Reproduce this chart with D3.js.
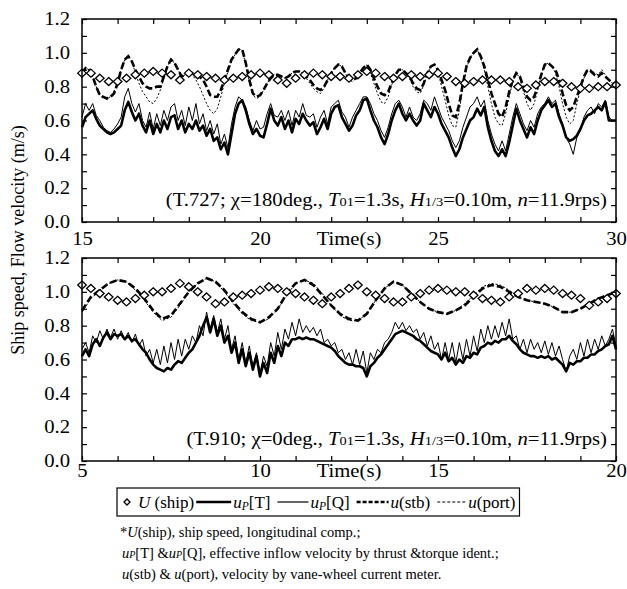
<!DOCTYPE html>
<html><head><meta charset="utf-8">
<script src="https://cdn.jsdelivr.net/npm/d3@7/dist/d3.min.js"></script>
<style>
body{margin:0;background:#fff}
</style>
</head><body>
<svg id="c" width="627" height="589" font-family="Liberation Serif"></svg>
<script>
// ---------------- DATA ----------------
// Top panel (T.727), time 15-30 s
const topStart = 15, topEnd = 30;
const topStepFast = 0.1;   // sampling of u_P and u(stb)/u(port)
const topStepShip = 0.25;  // sampling of U(ship)
const topUship = [
 0.88,0.88,0.85,0.83, 0.83,0.85,0.87,0.88, 0.89,0.88,0.87,0.84, 0.88,0.87,0.86,0.85,
 0.84,0.85,0.86,0.87, 0.88,0.87,0.84,0.82, 0.85,0.87,0.88,0.87, 0.86,0.86,0.85,0.87,
 0.89,0.88,0.86,0.85, 0.86,0.87,0.86,0.87, 0.88,0.86,0.83,0.82, 0.83,0.84,0.84,0.84,
 0.83,0.80,0.79,0.81, 0.83,0.83,0.82,0.80, 0.79,0.79,0.80,0.80, 0.81];
const topUpT = [
 0.56,0.62,0.64,0.66,0.61,0.57,0.55,0.53,0.52,0.53,
 0.55,0.57,0.66,0.71,0.65,0.60,0.64,0.57,0.53,0.60,
 0.52,0.58,0.53,0.60,0.55,0.62,0.63,0.55,0.60,0.53,
 0.58,0.55,0.60,0.54,0.57,0.51,0.55,0.48,0.50,0.43,
 0.47,0.40,0.52,0.64,0.70,0.72,0.66,0.58,0.52,0.55,
 0.51,0.50,0.58,0.67,0.60,0.57,0.62,0.55,0.60,0.53,
 0.61,0.58,0.64,0.60,0.57,0.59,0.52,0.56,0.61,0.55,
 0.64,0.68,0.69,0.62,0.58,0.54,0.57,0.63,0.66,0.72,
 0.73,0.66,0.60,0.56,0.50,0.46,0.52,0.60,0.66,0.70,
 0.64,0.60,0.64,0.60,0.57,0.60,0.70,0.66,0.62,0.68,
 0.64,0.58,0.54,0.50,0.44,0.39,0.43,0.50,0.55,0.60,
 0.62,0.67,0.63,0.68,0.56,0.48,0.42,0.39,0.43,0.39,
 0.47,0.57,0.67,0.60,0.55,0.50,0.56,0.52,0.60,0.66,
 0.69,0.72,0.68,0.70,0.62,0.57,0.50,0.48,0.49,0.51,
 0.55,0.60,0.63,0.64,0.66,0.68,0.66,0.71,0.60,0.60,
 0.60];
const topUpQ = [
 0.62,0.70,0.66,0.70,0.63,0.60,0.56,0.54,0.53,0.55,
 0.58,0.62,0.74,0.79,0.70,0.65,0.70,0.60,0.56,0.65,
 0.55,0.64,0.57,0.66,0.60,0.68,0.70,0.60,0.66,0.57,
 0.68,0.60,0.70,0.58,0.64,0.54,0.60,0.52,0.58,0.46,
 0.52,0.44,0.58,0.68,0.74,0.72,0.68,0.60,0.54,0.60,
 0.55,0.56,0.64,0.70,0.63,0.62,0.66,0.60,0.66,0.57,
 0.66,0.62,0.70,0.63,0.62,0.64,0.56,0.62,0.66,0.58,
 0.68,0.70,0.72,0.65,0.62,0.56,0.62,0.66,0.70,0.74,
 0.74,0.70,0.64,0.60,0.54,0.50,0.56,0.64,0.70,0.72,
 0.68,0.62,0.68,0.62,0.60,0.64,0.72,0.70,0.66,0.74,
 0.68,0.62,0.58,0.54,0.48,0.44,0.48,0.56,0.62,0.68,
 0.70,0.74,0.68,0.72,0.60,0.52,0.46,0.42,0.48,0.42,
 0.52,0.62,0.70,0.64,0.58,0.54,0.60,0.56,0.64,0.68,
 0.70,0.74,0.70,0.72,0.64,0.58,0.50,0.46,0.40,0.50,
 0.54,0.62,0.66,0.68,0.64,0.70,0.68,0.72,0.62,0.60,
 0.60];
const topStb = [
 0.88,0.91,0.90,0.86,0.80,0.75,0.74,0.73,0.74,0.76,
 0.82,0.90,0.96,0.98,0.95,0.90,0.86,0.82,0.80,0.79,
 0.79,0.80,0.80,0.86,0.92,0.96,0.94,0.90,0.86,0.87,
 0.88,0.88,0.87,0.86,0.84,0.80,0.75,0.74,0.74,0.78,
 0.84,0.90,0.96,0.99,1.02,1.02,0.94,0.84,0.76,0.74,
 0.75,0.78,0.82,0.85,0.87,0.87,0.86,0.85,0.86,0.88,
 0.89,0.89,0.88,0.86,0.84,0.81,0.79,0.78,0.80,0.84,
 0.88,0.91,0.93,0.92,0.88,0.85,0.84,0.85,0.88,0.91,
 0.93,0.90,0.85,0.80,0.76,0.75,0.77,0.82,0.87,0.90,
 0.90,0.88,0.86,0.82,0.79,0.78,0.82,0.88,0.92,0.93,
 0.90,0.84,0.78,0.70,0.63,0.62,0.70,0.82,0.92,0.97,
 1.00,1.02,0.98,0.92,0.84,0.76,0.70,0.64,0.62,0.68,
 0.77,0.84,0.88,0.86,0.80,0.74,0.72,0.74,0.80,0.87,
 0.93,0.94,0.92,0.90,0.84,0.76,0.69,0.66,0.68,0.74,
 0.80,0.86,0.90,0.89,0.87,0.86,0.88,0.86,0.84,0.82,
 0.81];
const topPort = [
 0.88,0.91,0.90,0.86,0.80,0.75,0.73,0.73,0.74,0.77,
 0.83,0.90,0.96,0.98,0.95,0.88,0.82,0.77,0.74,0.71,
 0.70,0.73,0.78,0.85,0.92,0.96,0.94,0.90,0.86,0.87,
 0.88,0.87,0.84,0.80,0.75,0.70,0.66,0.64,0.67,0.74,
 0.82,0.89,0.95,0.99,1.02,1.02,0.93,0.83,0.75,0.73,
 0.74,0.78,0.82,0.85,0.87,0.87,0.86,0.85,0.86,0.88,
 0.89,0.89,0.88,0.85,0.82,0.79,0.77,0.76,0.79,0.84,
 0.88,0.91,0.93,0.92,0.88,0.84,0.83,0.85,0.88,0.91,
 0.93,0.88,0.82,0.76,0.71,0.70,0.74,0.81,0.87,0.90,
 0.90,0.88,0.85,0.80,0.77,0.76,0.81,0.88,0.92,0.93,
 0.89,0.80,0.72,0.63,0.57,0.56,0.66,0.80,0.91,0.97,
 1.00,1.02,0.97,0.90,0.80,0.70,0.62,0.58,0.57,0.64,
 0.74,0.83,0.88,0.85,0.77,0.70,0.66,0.70,0.78,0.87,
 0.93,0.94,0.92,0.88,0.80,0.70,0.62,0.58,0.60,0.70,
 0.78,0.85,0.90,0.90,0.88,0.87,0.90,0.87,0.84,0.82,
 0.81];

// Bottom panel (T.910), time 5-20 s
const botStart = 5, botEnd = 20;
const botStepFast = 0.1;   // u_P
const botStepSlow = 0.25;  // U(ship), u(stb), u(port)
const botUship = [
 1.04,1.02,0.99,0.97, 0.95,0.94,0.96,0.98, 1.00,1.00,1.02,1.05, 1.03,1.00,0.97,0.93,
 0.94,0.97,0.98,0.99, 1.01,1.03,1.02,1.00, 0.99,0.97,0.95,0.93, 0.97,0.99,1.02,1.04,
 1.00,0.98,0.96,0.94, 0.94,0.97,0.99,1.01, 1.02,1.01,1.00,1.00, 0.98,0.96,0.95,0.94,
 0.97,0.99,1.02,1.01, 1.02,1.01,0.99,0.98, 0.96,0.92,0.94,0.96, 0.99];
const botUpT = [
 0.62,0.66,0.62,0.69,0.72,0.68,0.73,0.76,0.72,0.75,
 0.74,0.75,0.72,0.74,0.71,0.72,0.69,0.66,0.64,0.60,
 0.57,0.55,0.54,0.53,0.55,0.54,0.57,0.59,0.58,0.61,
 0.64,0.66,0.70,0.74,0.80,0.85,0.76,0.84,0.74,0.80,
 0.70,0.74,0.64,0.70,0.58,0.66,0.56,0.64,0.54,0.62,
 0.50,0.58,0.52,0.64,0.58,0.68,0.62,0.70,0.68,0.72,
 0.72,0.73,0.72,0.73,0.72,0.72,0.71,0.70,0.69,0.68,
 0.67,0.65,0.62,0.60,0.58,0.57,0.57,0.56,0.56,0.55,
 0.50,0.56,0.58,0.61,0.63,0.66,0.69,0.72,0.75,0.76,
 0.77,0.76,0.75,0.74,0.72,0.71,0.69,0.67,0.65,0.64,
 0.63,0.60,0.64,0.59,0.61,0.57,0.60,0.58,0.62,0.61,
 0.64,0.63,0.67,0.68,0.70,0.69,0.71,0.70,0.72,0.72,
 0.74,0.71,0.69,0.66,0.64,0.63,0.62,0.62,0.61,0.62,
 0.61,0.62,0.60,0.61,0.59,0.57,0.53,0.58,0.57,0.59,
 0.59,0.61,0.61,0.63,0.63,0.65,0.66,0.68,0.69,0.74,
 0.66];
const botUpQ = [
 0.66,0.70,0.64,0.74,0.70,0.77,0.72,0.78,0.73,0.78,
 0.72,0.77,0.72,0.76,0.70,0.75,0.68,0.72,0.62,0.66,
 0.58,0.66,0.57,0.68,0.58,0.70,0.60,0.72,0.62,0.72,
 0.66,0.74,0.70,0.80,0.74,0.88,0.78,0.86,0.76,0.84,
 0.72,0.80,0.66,0.74,0.60,0.70,0.58,0.68,0.56,0.64,
 0.52,0.62,0.56,0.70,0.62,0.76,0.66,0.78,0.72,0.82,
 0.74,0.84,0.76,0.80,0.76,0.79,0.74,0.78,0.70,0.72,
 0.68,0.70,0.64,0.66,0.60,0.64,0.57,0.66,0.57,0.65,
 0.52,0.64,0.60,0.66,0.64,0.70,0.72,0.76,0.82,0.78,
 0.82,0.77,0.80,0.76,0.78,0.72,0.76,0.68,0.74,0.66,
 0.70,0.60,0.70,0.60,0.70,0.58,0.70,0.60,0.72,0.62,
 0.74,0.65,0.78,0.70,0.80,0.72,0.80,0.73,0.82,0.74,
 0.84,0.72,0.74,0.66,0.72,0.64,0.72,0.66,0.70,0.64,
 0.71,0.63,0.70,0.62,0.68,0.60,0.53,0.62,0.66,0.60,
 0.70,0.62,0.72,0.64,0.72,0.66,0.74,0.68,0.72,0.78,
 0.68];
const botStb = [
 0.89,0.97,1.01,1.05, 1.07,1.06,1.02,0.96, 0.89,0.84,0.86,0.93, 1.00,1.05,1.08,1.06,
 1.01,0.94,0.88,0.84, 0.82,0.85,0.90,0.99, 1.05,1.07,1.04,0.98, 0.92,0.87,0.84,0.83,
 0.87,0.95,1.02,1.06, 1.04,0.99,0.94,0.90, 0.88,0.87,0.89,0.92, 0.97,1.02,1.04,1.03,
 1.00,0.97,0.95,0.94, 0.93,0.91,0.88,0.88, 0.90,0.93,0.96,0.98, 1.00];
const botPort = [
 0.88,0.96,1.01,1.05, 1.07,1.06,1.01,0.95, 0.88,0.83,0.85,0.92, 1.00,1.05,1.08,1.06,
 1.00,0.93,0.87,0.83, 0.82,0.84,0.90,0.98, 1.05,1.07,1.05,0.99, 0.92,0.86,0.83,0.83,
 0.87,0.95,1.02,1.06, 1.04,0.99,0.94,0.90, 0.88,0.87,0.89,0.93, 0.98,1.03,1.05,1.04,
 1.01,0.97,0.95,0.94, 0.93,0.91,0.88,0.88, 0.90,0.93,0.96,0.98, 1.00];

// Axis ticks
const yTickValues = [0,0.1,0.2,0.3,0.4,0.5,0.6,0.7,0.8,0.9,1.0,1.1,1.2];
const yTickLabels = [0,0.2,0.4,0.6,0.8,1.0,1.2];
const topXTicks = [15,16,17,18,19,20,21,22,23,24,25,26,27,28,29,30];
const topXLabels = [15,20,25,30];
const botXTicks = [5,6,7,8,9,10,11,12,13,14,15,16,17,18,19,20];
const botXLabels = [5,10,15,20];
const xTitle = "Time(s)";
const yTitle = "Ship speed, Flow velocity (m/s)";

// ---------------- DRAW ----------------
const FONT = "Liberation Serif";
const SX = 1.15; // horizontal stretch of the reference lettering
const svg = d3.select("#c");
const PX0 = 82, PX1 = 616;

function stretch(sel, s){
  sel.each(function(){
    const xa = +(this.getAttribute("x") || 0);
    this.setAttribute("transform", `translate(${xa*(1-s)},0) scale(${s},1)`);
  });
}
function series(vals, start, step){ return vals.map((v,i)=>({t: start + i*step, v})); }

const panels = [
 {y0:222, y1:19, dom:[topStart, topEnd], ticks: topXTicks, labels: topXLabels, pad: 10,
  note:"(T.727; \u03C7=180deg., ",
  U: series(topUship, topStart, topStepShip),
  T: series(topUpT, topStart, topStepFast),
  Q: series(topUpQ, topStart, topStepFast),
  S: series(topStb, topStart, topStepFast),
  P: series(topPort, topStart, topStepFast)},
 {y0:461, y1:258, dom:[botStart, botEnd], ticks: botXTicks, labels: botXLabels, pad: 3,
  note:"(T.910; \u03C7=0deg., ",
  U: series(botUship, botStart, botStepSlow),
  T: series(botUpT, botStart, botStepFast),
  Q: series(botUpQ, botStart, botStepFast),
  S: series(botStb, botStart, botStepSlow),
  P: series(botPort, botStart, botStepSlow)}
];

const diamond = "M0,-4L4.3,0L0,4L-4.3,0Z";
const fmt = d3.format(".1f");

panels.forEach(p=>{
  const x = d3.scaleLinear().domain(p.dom).range([PX0, PX1]);
  const y = d3.scaleLinear().domain([0,1.2]).range([p.y0, p.y1]);
  const g = svg.append("g");
  const line = d3.line().x(d=>x(d.t)).y(d=>y(d.v));

  // series
  g.append("path").attr("d", line(p.P)).attr("fill","none").attr("stroke","#000")
    .attr("stroke-width",1).attr("stroke-dasharray","2,2");
  g.append("path").attr("d", line(p.S)).attr("fill","none").attr("stroke","#000")
    .attr("stroke-width",2.6).attr("stroke-dasharray","7,3");
  g.append("path").attr("d", line(p.Q)).attr("fill","none").attr("stroke","#000")
    .attr("stroke-width",1).attr("stroke-linejoin","round");
  g.append("path").attr("d", line(p.T)).attr("fill","none").attr("stroke","#000")
    .attr("stroke-width",2.6).attr("stroke-linejoin","round");
  g.selectAll(".dm").data(p.U).join("path")
    .attr("transform", d=>`translate(${x(d.t)},${y(d.v)})`)
    .attr("d", diamond).attr("fill","#fff").attr("stroke","#000").attr("stroke-width",1.3);

  // frame
  g.append("rect").attr("x",PX0).attr("y",p.y1).attr("width",PX1-PX0).attr("height",p.y0-p.y1)
    .attr("fill","none").attr("stroke","#000").attr("stroke-width",1.5);

  const labSet = new Set(p.labels);
  g.append("g").attr("transform",`translate(0,${p.y0})`)
    .call(d3.axisBottom(x).tickValues(p.ticks).tickSize(-5).tickPadding(p.pad)
      .tickFormat(d=> labSet.has(d) ? String(d) : ""));
  g.append("g").attr("transform",`translate(0,${p.y1})`)
    .call(d3.axisTop(x).tickValues(p.ticks).tickSize(-5).tickFormat(""));
  const yl = new Set(yTickLabels.map(fmt));
  g.append("g").attr("transform",`translate(${PX0},0)`)
    .call(d3.axisLeft(y).tickValues(yTickValues).tickSize(-5).tickPadding(12)
      .tickFormat(d=> yl.has(fmt(d)) ? fmt(d) : ""));
  g.append("g").attr("transform",`translate(${PX1},0)`)
    .call(d3.axisRight(y).tickValues(yTickValues).tickSize(-5).tickFormat(""));
  g.selectAll(".domain").remove();
  g.selectAll("g").attr("font-family", FONT);
  g.selectAll(".tick line").attr("stroke","#000").attr("stroke-width",1.2);
  const tt = g.selectAll(".tick text").attr("font-size",18).attr("font-family",FONT).attr("fill","#000");
  stretch(tt, SX);

  // x title
  const xt = g.append("text").attr("x", x((p.dom[0]+p.dom[1])/2)).attr("y", p.y0 + p.pad)
    .attr("dy","0.71em").attr("text-anchor","middle").attr("font-size",18).attr("font-family",FONT).text(xTitle);
  stretch(xt, SX);

  // annotation
  const a = g.append("text").attr("x",607).attr("y",p.y0-16).attr("text-anchor","end")
    .attr("font-size",18).attr("font-family",FONT);
  a.append("tspan").text(p.note);
  a.append("tspan").attr("font-style","italic").text("T");
  a.append("tspan").attr("font-size",12.5).text("01");
  a.append("tspan").text("=1.3s, ");
  a.append("tspan").attr("font-style","italic").text("H");
  a.append("tspan").attr("font-size",12.5).text("1/3");
  a.append("tspan").text("=0.10m, ");
  a.append("tspan").attr("font-style","italic").text("n");
  a.append("tspan").text("=11.9rps)");
  stretch(a, SX);
});

// y title
svg.append("text").attr("transform","translate(24,240) rotate(-90)").attr("text-anchor","middle")
  .attr("font-size",18).attr("font-family",FONT).text(yTitle);

// legend
const lg = svg.append("g").attr("font-family",FONT);
const LY = 502, LB = 508, LFS = 17;
let cx = 124;
lg.append("path").attr("transform",`translate(${cx+3},${LY})`).attr("d","M0,-3L3,0L0,3L-3,0Z")
  .attr("fill","#fff").attr("stroke","#000").attr("stroke-width",1.3);
cx += 14;
function addText(parts){
  const t = lg.append("text").attr("x",cx).attr("y",LB).attr("font-size",LFS).attr("font-family",FONT);
  parts.forEach(pt=>{
    const s = t.append("tspan").text(pt.s);
    if(pt.i) s.attr("font-style","italic");
    if(pt.sub) s.attr("font-size",11.5).attr("dy",2);
    if(pt.up) s.attr("dy",-2);
  });
  cx += t.node().getComputedTextLength();
}
function addLine(len, w, dash){
  const l = lg.append("line").attr("x1",cx).attr("x2",cx+len).attr("y1",LY).attr("y2",LY)
    .attr("stroke","#000").attr("stroke-width",w);
  if(dash) l.attr("stroke-dasharray",dash);
  cx += len + 2;
}
addText([{s:"U",i:1},{s:" (ship) "}]); cx += 2;
addLine(35, 2.5);
addText([{s:"u",i:1},{s:"P",i:1,sub:1},{s:"[T]",up:1}]); cx += 7;
addLine(31, 1.2);
addText([{s:"u",i:1},{s:"P",i:1,sub:1},{s:"[Q]",up:1}]); cx += 7;
addLine(32, 2.5, "4,2");
addText([{s:"u",i:1},{s:"(stb)"}]); cx += 7;
addLine(29, 1.2, "3,2");
addText([{s:"u",i:1},{s:"(port)"}]);
lg.insert("rect",":first-child").attr("x",117).attr("y",488).attr("width",cx+4-117).attr("height",28)
  .attr("fill","#fff").attr("stroke","#000").attr("stroke-width",1.2);

// footnotes
const FFS = 14.5;
function fnote(xp, yp, parts){
  const t = svg.append("text").attr("x",xp).attr("y",yp).attr("font-size",FFS).attr("font-family",FONT);
  parts.forEach(pt=>{
    const s = t.append("tspan").text(pt.s);
    if(pt.i) s.attr("font-style","italic");
    if(pt.sub) s.attr("font-size",10);
  });
}
fnote(120,537,[{s:"*"},{s:"U",i:1},{s:"(ship), ship speed, longitudinal comp.;"}]);
fnote(122,558,[{s:"u",i:1},{s:"P",i:1,sub:1},{s:"[T] &"},{s:"u",i:1},{s:"P",i:1,sub:1},
  {s:"[Q], effective inflow velocity by thrust &torque ident.;"}]);
fnote(122,579,[{s:"u",i:1},{s:"(stb) & "},{s:"u",i:1},{s:"(port), velocity by vane-wheel current meter."}]);
</script>
</body></html>
